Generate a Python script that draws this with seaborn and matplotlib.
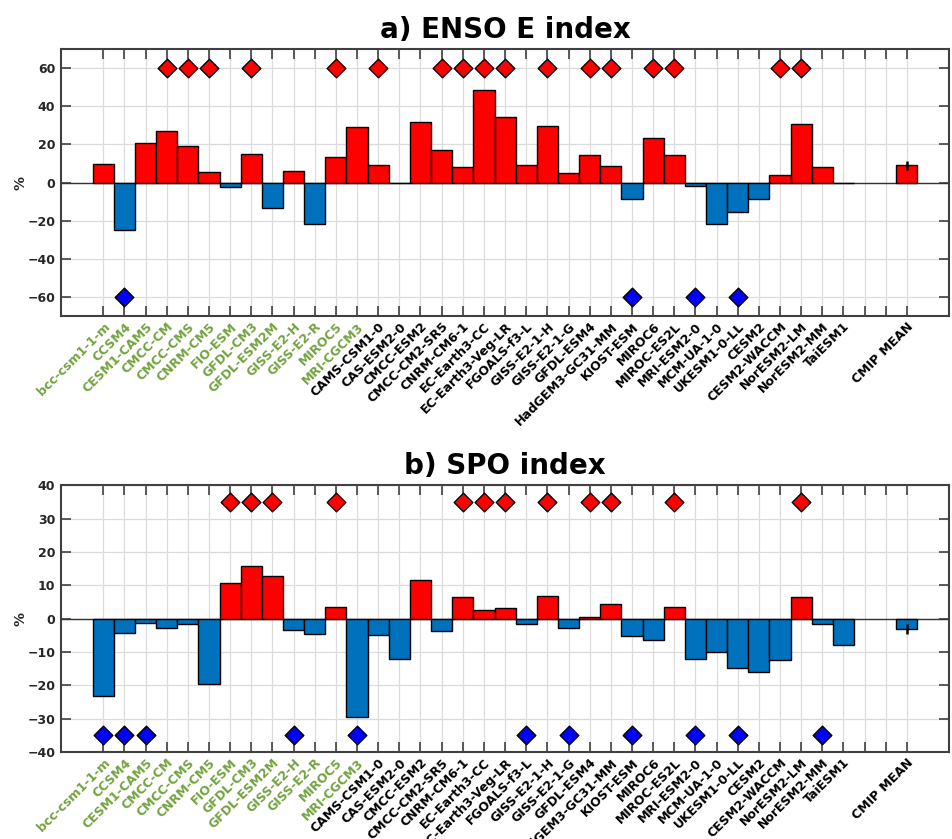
import numpy as np
import pandas as pd
import matplotlib
matplotlib.use("Agg")
import matplotlib.pyplot as plt
import seaborn as sns

# Model names (first 13 are CMIP5, drawn in green)
models = ['bcc-csm1-1-m', 'CCSM4', 'CESM1-CAM5', 'CMCC-CM', 'CMCC-CMS', 'CNRM-CM5',
          'FIO-ESM', 'GFDL-CM3', 'GFDL-ESM2M', 'GISS-E2-H', 'GISS-E2-R', 'MIROC5',
          'MRI-CGCM3', 'CAMS-CSM1-0', 'CAS-ESM2-0', 'CMCC-ESM2', 'CMCC-CM2-SR5',
          'CNRM-CM6-1', 'EC-Earth3-CC', 'EC-Earth3-Veg-LR', 'FGOALS-f3-L', 'GISS-E2-1-H',
          'GISS-E2-1-G', 'GFDL-ESM4', 'HadGEM3-GC31-MM', 'KIOST-ESM', 'MIROC6',
          'MIROC-ES2L', 'MRI-ESM2-0', 'MCM-UA-1-0', 'UKESM1-0-LL', 'CESM2',
          'CESM2-WACCM', 'NorESM2-LM', 'NorESM2-MM', 'TaiESM1']
n_cmip5 = 13
mean_label = 'CMIP MEAN'

# ENSO E index change (%)
enso_vals = [10.0, -24.7, 20.6, 26.9, 19.2, 5.6, -2.1, 15.2, -13.1, 6.1, -21.5, 13.6,
             29.0, 9.1, -0.3, 32.0, 17.0, 8.4, 48.6, 34.6, 9.3, 29.9, 5.1, 14.5, 8.6,
             -8.7, 23.4, 14.5, -1.7, -21.9, -15.6, -8.4, 4.0, 30.8, 8.0, -0.3]
enso_mean = 9.1
enso_err = 2.4
enso_sig_pos = ['CMCC-CM', 'CMCC-CMS', 'CNRM-CM5', 'GFDL-CM3', 'MIROC5', 'CAMS-CSM1-0',
                'CMCC-CM2-SR5', 'CNRM-CM6-1', 'EC-Earth3-CC', 'EC-Earth3-Veg-LR',
                'GISS-E2-1-H', 'GFDL-ESM4', 'HadGEM3-GC31-MM', 'MIROC6', 'MIROC-ES2L',
                'CESM2-WACCM', 'NorESM2-LM']
enso_sig_neg = ['CCSM4', 'KIOST-ESM', 'MRI-ESM2-0', 'UKESM1-0-LL']

# SPO index change (%)
spo_vals = [-23.2, -4.2, -1.2, -2.8, -1.7, -19.6, 10.8, 15.7, 12.9, -3.4, -4.6, 3.6,
            -29.6, -5.0, -12.0, 11.5, -3.8, 6.6, 2.7, 3.2, -1.5, 6.8, -2.8, 0.5, 4.4,
            -5.2, -6.5, 3.4, -12.0, -10.0, -14.7, -15.9, -12.5, 6.6, -1.5, -7.8]
spo_mean = -3.2
spo_err = 1.5
spo_sig_pos = ['FIO-ESM', 'GFDL-CM3', 'GFDL-ESM2M', 'MIROC5', 'CNRM-CM6-1', 'EC-Earth3-CC',
               'EC-Earth3-Veg-LR', 'GISS-E2-1-H', 'GFDL-ESM4', 'HadGEM3-GC31-MM',
               'MIROC-ES2L', 'NorESM2-LM']
spo_sig_neg = ['bcc-csm1-1-m', 'CCSM4', 'CESM1-CAM5', 'GISS-E2-H', 'MRI-CGCM3',
               'FGOALS-f3-L', 'GISS-E2-1-G', 'KIOST-ESM', 'MRI-ESM2-0', 'UKESM1-0-LL',
               'NorESM2-MM']

RED = '#ff0000'
BLUE = '#0072bd'
GREEN = '#72a33f'
TXT = '#262626'

# x positions: models 1..36, two empty slots, mean at 39
model_pos = {m: i + 1 for i, m in enumerate(models)}
mean_pos = len(models) + 3
tick_pos = list(range(1, mean_pos + 1))
tick_lab = models + ['', '', mean_label]

plt.rcParams['font.family'] = 'DejaVu Sans'
plt.rcParams['font.weight'] = 'bold'

fig = plt.figure(figsize=(9.53, 8.39), dpi=100)
ax1 = fig.add_axes([0.064, 0.6234, 0.932, 0.318])
ax2 = fig.add_axes([0.064, 0.1037, 0.932, 0.318])


def draw_panel(ax, vals, mean, err, sig_pos, sig_neg, ylim, yticks, mark_hi, mark_lo, title):
    df = pd.DataFrame({'pos': [model_pos[m] for m in models] + [mean_pos],
                       'val': vals + [mean]})
    df['sign'] = np.where(df['val'] >= 0, 'pos', 'neg')
    ax.axhline(0, color='#333333', lw=1.0, zorder=1)
    sns.barplot(data=df, x='pos', y='val', hue='sign', palette={'pos': RED, 'neg': BLUE},
                native_scale=True, width=1.0, dodge=False, errorbar=None, saturation=1,
                edgecolor='black', linewidth=1.0, legend=False, ax=ax, zorder=2)
    ax.errorbar([mean_pos], [mean], yerr=[err], fmt='none', ecolor='black',
                elinewidth=1.8, capsize=0, zorder=3)

    hi = pd.DataFrame({'pos': [model_pos[m] for m in sig_pos], 'y': mark_hi})
    lo = pd.DataFrame({'pos': [model_pos[m] for m in sig_neg], 'y': mark_lo})
    sns.scatterplot(data=hi, x='pos', y='y', marker='D', s=90, color=RED,
                    edgecolor='black', linewidth=1.0, ax=ax, zorder=4, legend=False)
    sns.scatterplot(data=lo, x='pos', y='y', marker='D', s=90, color='#0000ff',
                    edgecolor='black', linewidth=1.0, ax=ax, zorder=4, legend=False)

    ax.set_xlim(-1, mean_pos + 2)
    ax.set_ylim(*ylim)
    ax.set_yticks(yticks)
    ax.set_xticks(tick_pos)
    ax.set_xticklabels(tick_lab, rotation=45, ha='right', rotation_mode='anchor',
                       fontsize=9, fontweight='bold')
    for i, lab in enumerate(ax.get_xticklabels()):
        lab.set_color(GREEN if i < n_cmip5 else 'black')
    ax.tick_params(axis='y', labelsize=9, labelcolor=TXT)
    ax.tick_params(direction='in', length=7, width=1.2, color='#404040',
                   top=True, right=True, pad=4)
    ax.tick_params(axis='x', pad=3)
    ax.grid(True, color='#dcdcdc', lw=0.9)
    ax.set_axisbelow(True)
    for s in ax.spines.values():
        s.set_color('#404040')
        s.set_linewidth(1.5)
    ax.set_xlabel('')
    ax.set_ylabel('%', fontsize=10, fontweight='bold', color=TXT, labelpad=0)
    ax.set_title(title, fontsize=20, fontweight='bold', pad=8)


draw_panel(ax1, enso_vals, enso_mean, enso_err, enso_sig_pos, enso_sig_neg,
           (-70, 70), np.arange(-60, 61, 20),
           [60] * len(enso_sig_pos), [-60] * len(enso_sig_neg), 'a) ENSO E index')
draw_panel(ax2, spo_vals, spo_mean, spo_err, spo_sig_pos, spo_sig_neg,
           (-40, 40), np.arange(-40, 41, 10),
           [35] * len(spo_sig_pos), [-35] * len(spo_sig_neg), 'b) SPO index')

fig.savefig('out.png', dpi=100, facecolor='white')
